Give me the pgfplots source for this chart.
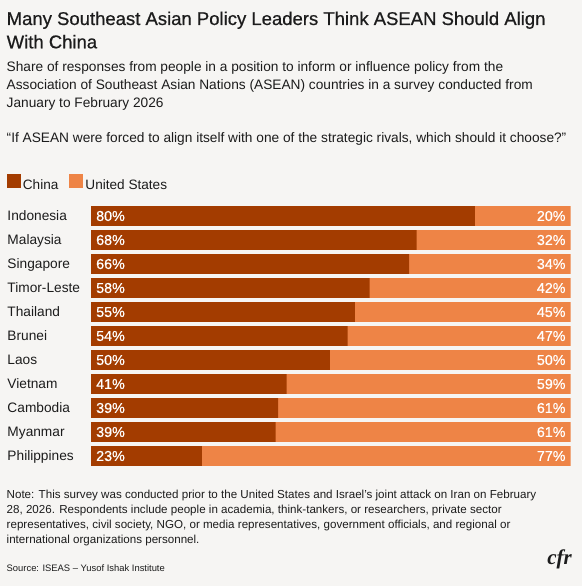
\documentclass[border=0pt]{standalone}
\usepackage{pgfplots}
\pgfplotsset{compat=1.18}
\usepackage{pgfplotstable}
\usepackage{fontspec}
\setmainfont{Liberation Sans}
\newfontfamily\medfont[FakeBold=0.6]{Liberation Sans}
\newfontfamily\logofont{Liberation Serif}
\definecolor{bg}{RGB}{246,245,243}
\definecolor{chinac}{RGB}{163,60,0}
\definecolor{usc}{RGB}{238,132,70}
\definecolor{txt}{RGB}{28,28,28}

\pgfplotstableread[col sep=comma]{
idx,country,zero,china,us,cl,ul
0,Indonesia,0,80,20,80,20
1,Malaysia,0,67.9,32.1,68,32
2,Singapore,0,66.3,33.7,66,34
3,Timor-Leste,0,58.1,41.9,58,42
4,Thailand,0,55,45,55,45
5,Brunei,0,53.5,46.5,54,47
6,Laos,0,49.8,50.2,50,50
7,Vietnam,0,40.8,59.2,41,59
8,Cambodia,0,39,61,39,61
9,Myanmar,0,38.5,61.5,39,61
10,Philippines,0,23.1,76.9,23,77
}\datatable

\begin{document}
\begin{tikzpicture}[x=1pt,y=1pt]
\fill[bg] (0,0) rectangle (582,-586);
\begin{scope}[every node/.style={anchor=base west, inner sep=0pt, text=txt}]
\node[font=\medfont\fontsize{18.5}{22}\selectfont] at (6.5,-25) {Many Southeast Asian Policy Leaders Think ASEAN Should Align};
\node[font=\medfont\fontsize{18.5}{22}\selectfont] at (6.5,-48.3) {With China};
\node[font=\fontsize{13.7}{16}\selectfont] at (6.5,-71.7) {Share of responses from people in a position to inform or influence policy from the};
\node[font=\fontsize{13.7}{16}\selectfont] at (6.5,-89.7) {Association of Southeast Asian Nations (ASEAN) countries in a survey conducted from};
\node[font=\fontsize{13.7}{16}\selectfont] at (6.5,-107.3) {January to February 2026};
\node[font=\fontsize{13.7}{16}\selectfont] at (6.5,-142.7) {``If ASEAN were forced to align itself with one of the strategic rivals, which should it choose?''};
\node[font=\fontsize{11.6}{14}\selectfont] at (6.5,-498.3) {Note: This survey was conducted prior to the United States and Israel's joint attack on Iran on February};
\node[font=\fontsize{11.6}{14}\selectfont] at (6.5,-513.3) {28, 2026. Respondents include people in academia, think-tankers, or researchers, private sector};
\node[font=\fontsize{11.6}{14}\selectfont] at (6.5,-528.3) {representatives, civil society, NGO, or media representatives, government officials, and regional or};
\node[font=\fontsize{11.6}{14}\selectfont] at (6.5,-543.3) {international organizations personnel.};
\node[font=\fontsize{9.4}{12}\selectfont] at (6.5,-571) {Source: ISEAS -- Yusof Ishak Institute};
\end{scope}
\node[anchor=base east, inner sep=0pt, text=txt, font=\logofont\bfseries\itshape\fontsize{21}{21}\selectfont] at (572,-564) {cfr};
\begin{axis}[
  at={(91pt,-204pt)}, anchor=north west,
  scale only axis, width=479.7pt, height=264pt,
  xbar, bar width=19.7pt, bar shift=0pt,
  xmin=0, xmax=100, ymin=-0.5, ymax=10.5, y dir=reverse,
  axis line style={draw=none},
  xtick=\empty, ytick={0,...,10},
  yticklabels from table={\datatable}{country},
  major tick length=0pt,
  yticklabel style={anchor=base west, inner sep=0pt, xshift=-83.7pt, yshift=-4.7pt, text=txt, font=\fontsize{13.7}{16}\selectfont},
  legend style={at={(rel axis cs:0,1)}, anchor=south west, xshift=-84.3pt, yshift=13pt,
    draw=none, fill=none, inner sep=0pt, font=\fontsize{13.6}{16}\selectfont, text=txt,
    nodes={inner sep=0pt},
    /tikz/every odd column/.append style={column sep=2.3pt},
    /tikz/every even column/.append style={column sep=11pt}},
  legend columns=-1,
  legend image code/.code={\fill[#1] (0pt,-3.3pt) rectangle (13.7pt,10.7pt);},
]
\addplot[draw=none, fill=usc, forget plot,
  nodes near coords={\pgfplotspointmeta\%}, point meta=explicit symbolic,
  every node near coord/.append style={anchor=east, xshift=-5pt, inner sep=0pt, text=white, font=\medfont\fontsize{14.3}{16}\selectfont}]
  table[x expr=\thisrow{china}+\thisrow{us}, y=idx, meta=ul] {\datatable};
\addplot[draw=none, fill=chinac, forget plot] table[x=china, y=idx] {\datatable};
\addplot[draw=none, fill=none, forget plot,
  nodes near coords={\pgfplotspointmeta\%}, point meta=explicit symbolic,
  every node near coord/.append style={anchor=west, xshift=5pt, inner sep=0pt, text=white, font=\medfont\fontsize{14.3}{16}\selectfont}]
  table[x=zero, y=idx, meta=cl] {\datatable};
\addlegendimage{fill=chinac, draw=none}
\addlegendentry{China}
\addlegendimage{fill=usc, draw=none}
\addlegendentry{United States}
\end{axis}
\end{tikzpicture}
\end{document}
